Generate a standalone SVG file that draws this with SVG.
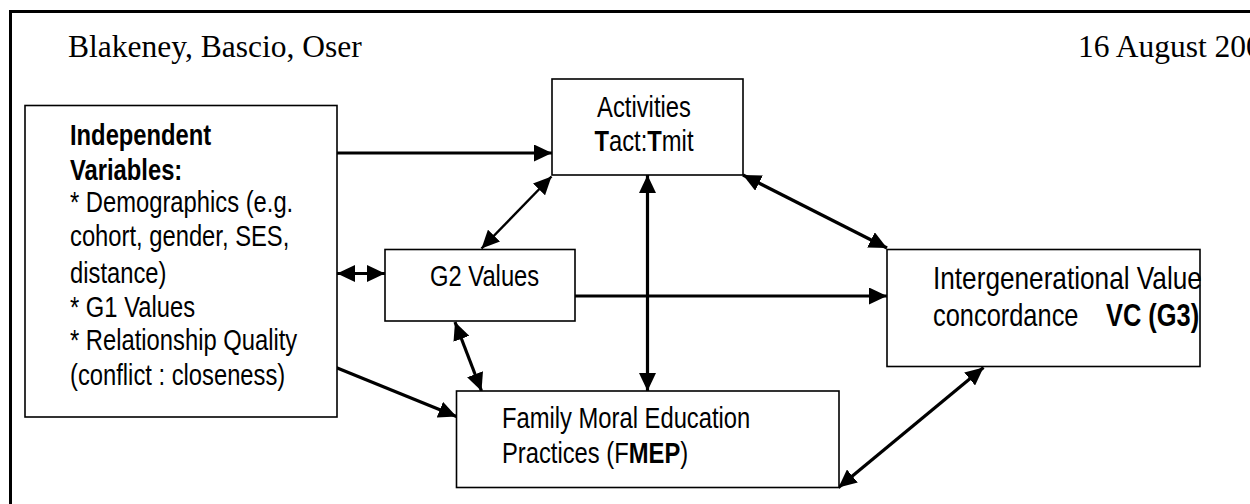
<svg xmlns="http://www.w3.org/2000/svg" width="1250" height="504" viewBox="0 0 1250 504">
  <style>
    .frame { fill: none; stroke: #000; stroke-width: 3; }
    .box { fill: #fff; stroke: #000; stroke-width: 1.6; }
    .head { font-family: "Liberation Serif", "Times New Roman", serif; font-size: 31.5px; fill: #000; }
    .lbl { font-family: "Liberation Sans", Arial, sans-serif; font-size: 29px; fill: #000; }
    .lbl-lg { font-size: 31px; }
    .b { font-weight: bold; }
    .conn { fill: none; stroke: #000; stroke-width: 3.2; }
    .thin { stroke-width: 2.4; }
  </style>
  <defs>
    <marker id="ah" markerUnits="userSpaceOnUse" markerWidth="19" markerHeight="17" refX="18" refY="8.5" orient="auto-start-reverse">
      <path d="M0,0 L18,8.5 L0,17 z" fill="#000"/>
    </marker>
  </defs>

  <rect width="1250" height="504" fill="#fff"/>

  <!-- page frame (left and top edges) -->
  <path class="frame" d="M10.5,510 V11.5 H1260"/>

  <!-- page header -->
  <text class="head" x="68" y="57">Blakeney, Bascio, Oser</text>
  <text class="head" x="1078" y="57">16 August 200</text>

  <g id="connectors">
    <path class="conn" d="M337,153 H552" marker-end="url(#ah)"/>
    <path class="conn thin" d="M551.5,176.5 L481.5,248.5" marker-start="url(#ah)" marker-end="url(#ah)"/>
    <path class="conn" d="M647.5,175 V391" marker-start="url(#ah)" marker-end="url(#ah)"/>
    <path class="conn" d="M575,296 H887" marker-end="url(#ah)"/>
    <path class="conn" d="M743,175 L887,248" marker-start="url(#ah)" marker-end="url(#ah)"/>
    <path class="conn" d="M337,273.5 H385" marker-start="url(#ah)" marker-end="url(#ah)"/>
    <path class="conn" d="M455,322 L481.5,391" marker-start="url(#ah)" marker-end="url(#ah)"/>
    <path class="conn" d="M336,367.5 L456.5,416.5" marker-end="url(#ah)"/>
    <path class="conn" d="M983.5,367.5 L838.5,487.5" marker-start="url(#ah)" marker-end="url(#ah)"/>
  </g>

  <!-- labels use a condensed sans: each line is squeezed horizontally -->
  <g id="independent-variables">
    <rect class="box" x="25" y="105.5" width="312" height="311.5"/>
    <text class="lbl b" transform="translate(70 145) scale(0.82 1)">Independent</text>
    <text class="lbl b" transform="translate(70 180) scale(0.82 1)">Variables:</text>
    <text class="lbl" transform="translate(70 212) scale(0.82 1)">* Demographics (e.g.</text>
    <text class="lbl" transform="translate(70 246) scale(0.82 1)">cohort, gender, SES,</text>
    <text class="lbl" transform="translate(70 283) scale(0.82 1)">distance)</text>
    <text class="lbl" transform="translate(70 317) scale(0.82 1)">* G1 Values</text>
    <text class="lbl" transform="translate(70 350) scale(0.82 1)">* Relationship Quality</text>
    <text class="lbl" transform="translate(70 385) scale(0.82 1)">(conflict : closeness)</text>
  </g>

  <g id="activities">
    <rect class="box" x="552" y="79" width="191" height="96"/>
    <text class="lbl" text-anchor="middle" transform="translate(644 117) scale(0.82 1)">Activities</text>
    <text class="lbl" text-anchor="middle" transform="translate(644 151) scale(0.82 1)"><tspan class="b">T</tspan>act:<tspan class="b">T</tspan>mit</text>
  </g>

  <g id="g2-values">
    <rect class="box" x="385" y="249.5" width="190" height="71.5"/>
    <text class="lbl" transform="translate(430 286) scale(0.82 1)">G2 Values</text>
  </g>

  <g id="fmep">
    <rect class="box" x="456.5" y="391" width="382.5" height="96.5"/>
    <text class="lbl" transform="translate(502 428) scale(0.82 1)">Family Moral Education</text>
    <text class="lbl" transform="translate(502 463) scale(0.82 1)">Practices (F<tspan class="b">MEP</tspan>)</text>
  </g>

  <g id="value-concordance">
    <rect class="box" x="887" y="249.5" width="313" height="117"/>
    <text class="lbl lbl-lg" transform="translate(933 289) scale(0.845 1)">Intergenerational Value</text>
    <text class="lbl lbl-lg" transform="translate(933 326) scale(0.82 1)">concordance</text>
    <text class="lbl lbl-lg b" transform="translate(1106 326) scale(0.82 1)">VC (G3)</text>
  </g>
</svg>
